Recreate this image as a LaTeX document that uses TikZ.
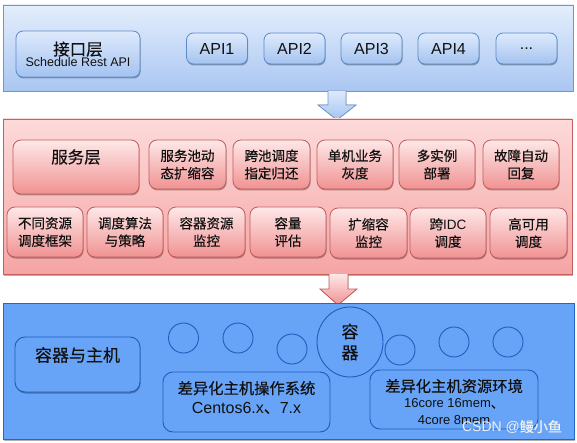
\documentclass[tikz,border=0pt]{standalone}
\usepackage{fontspec}
\setmainfont{Liberation Sans}
\newfontfamily\cjk[FakeBold=0.4]{Noto Sans CJK SC}
\usetikzlibrary{shadows,shapes.geometric}
\definecolor{tpTop}{HTML}{E4EEFC}
\definecolor{tpBot}{HTML}{A9C6F2}
\definecolor{tpBorder}{HTML}{6E97D0}
\definecolor{bbTop}{HTML}{DEEAFC}
\definecolor{bbBot}{HTML}{A4C3F0}
\definecolor{bbBorder}{HTML}{5B8AC9}
\definecolor{pkTop}{HTML}{FDDADA}
\definecolor{pkBot}{HTML}{F6A4A4}
\definecolor{pkBorder}{HTML}{C4605E}
\definecolor{pbTop}{HTML}{FEE8E8}
\definecolor{pbBot}{HTML}{F09292}
\definecolor{pbBorder}{HTML}{C25C5B}
\definecolor{dpFill}{HTML}{67A4F8}
\definecolor{dpBorder}{HTML}{2466C6}
\definecolor{dpInner}{HTML}{1D5DBD}
\definecolor{txt}{HTML}{111111}
\begin{document}
\begin{tikzpicture}[x=1pt,y=-1pt,
  shad/.style={drop shadow={shadow xshift=0.6pt,shadow yshift=-1.5pt,opacity=0.3,fill=black}},
  bluepanel/.style={rectangle,draw=tpBorder,line width=0.8pt,top color=tpTop,bottom color=tpBot,shad,inner sep=0pt},
  pinkpanel/.style={rectangle,draw=pkBorder,line width=0.8pt,top color=pkTop,bottom color=pkBot,shad,inner sep=0pt},
  deeppanel/.style={rectangle,draw=dpBorder,line width=0.8pt,fill=dpFill,shad,inner sep=0pt},
  bluebox/.style={rectangle,rounded corners=7pt,draw=bbBorder,line width=0.8pt,top color=bbTop,bottom color=bbBot,shad,inner sep=0pt,align=center,text=txt},
  apibox/.style={bluebox,minimum width=61pt,minimum height=31pt,font=\fontsize{16}{18}\selectfont},
  pinkbox/.style={rectangle,rounded corners=8pt,draw=pbBorder,line width=0.8pt,top color=pbTop,bottom color=pbBot,shad,inner sep=0pt,align=center,text=txt,font=\cjk\fontsize{13.5}{17.5}\selectfont},
  deepbox/.style={rectangle,rounded corners=10pt,draw=dpInner,line width=0.9pt,fill=dpFill,inner sep=0pt,align=center,text=txt},
  smallc/.style={circle,draw=dpInner,line width=0.9pt,fill=dpFill,minimum size=30pt,inner sep=0pt},
  lbl/.style={inner sep=0pt,text=txt,align=center},
]
\useasboundingbox (0,0) rectangle (577,443);

% ---------- top panel ----------
\node[bluepanel,minimum width=570pt,minimum height=86pt] (top) at (288,48) {};
\node[bluebox,minimum width=124pt,minimum height=46pt] (iface) at (78,54)
  {{\cjk\fontsize{16.5}{18}\selectfont 接口层}\\[-1pt]{\fontsize{12.5}{14}\selectfont Schedule Rest API}};
\node[apibox] (api1) at (217,48.5) {API1};
\node[apibox] (api2) at (294.5,48.5) {API2};
\node[apibox] (api3) at (371.5,48.5) {API3};
\node[apibox] (api4) at (448.5,48.5) {API4};
\node[apibox] (api5) at (526.5,48.5) {...};

% ---------- arrow 1 ----------
\fill[top color=bbTop,bottom color=bbBot,draw=tpBorder,line width=0.8pt]
  (328,91) -- (328,105) -- (318,105) -- (337,120) -- (356,105) -- (346,105) -- (346,91);

% ---------- middle panel ----------
\node[pinkpanel,minimum width=569pt,minimum height=155pt] (mid) at (287.5,196.5) {};
\node[pinkbox,minimum width=126pt,minimum height=54pt] (svc) at (76,167) {};
\node[lbl,font=\cjk\fontsize{16.5}{18}\selectfont] (svcT) at (76,157) {服务层};
\node[pinkbox,minimum width=77pt,minimum height=49pt] (r1a) at (187.5,164.5) {服务池动\\态扩缩容};
\node[pinkbox,minimum width=77pt,minimum height=49pt] (r1b) at (271.5,164.5) {跨池调度\\指定归还};
\node[pinkbox,minimum width=76pt,minimum height=49pt] (r1c) at (355,164.5) {单机业务\\灰度};
\node[pinkbox,minimum width=76pt,minimum height=49pt] (r1d) at (437,164.5) {多实例\\部署};
\node[pinkbox,minimum width=76pt,minimum height=49pt] (r1e) at (521,164.5) {故障自动\\回复};
\node[pinkbox,minimum width=76pt,minimum height=50pt] (r2a) at (45,232) {不同资源\\调度框架};
\node[pinkbox,minimum width=76pt,minimum height=50pt] (r2b) at (125,232) {调度算法\\与策略};
\node[pinkbox,minimum width=77pt,minimum height=50pt] (r2c) at (206.5,232) {容器资源\\监控};
\node[pinkbox,minimum width=76pt,minimum height=50pt] (r2d) at (288,232) {容量\\评估};
\node[pinkbox,minimum width=77pt,minimum height=50pt] (r2e) at (368.5,233) {扩缩容\\监控};
\node[pinkbox,minimum width=76pt,minimum height=50pt] (r2f) at (448,233) {跨{\rmfamily IDC}\\调度};
\node[pinkbox,minimum width=77pt,minimum height=50pt] (r2g) at (528.5,233) {高可用\\调度};

% ---------- arrow 2 ----------
\fill[top color=pbTop,bottom color=pbBot,draw=pbBorder,line width=0.8pt]
  (329,274) -- (329,289) -- (320,289) -- (338,305) -- (357,289) -- (348,289) -- (348,274);

% ---------- bottom panel ----------
\node[deeppanel,minimum width=571pt,minimum height=136pt] (bot) at (288.5,371) {};
\node[deepbox,minimum width=125pt,minimum height=55pt,shad] (host) at (77.5,364.5) {};
\node[lbl,font=\cjk\fontsize{17}{19}\selectfont] (hostT) at (77.5,355) {容器与主机};
\node[deepbox,minimum width=167pt,minimum height=60pt] (os) at (246.5,402) {};
\node[lbl,font=\cjk\fontsize{15.3}{19}\selectfont] (osT) at (246.5,397.5)
  {差异化主机操作系统\\{\rmfamily\fontsize{16}{19}\selectfont Centos6.x{\cjk 、}7.x}};
\node[deepbox,minimum width=168pt,minimum height=59pt] (res) at (454,399.5) {};
\node[lbl,font=\cjk\fontsize{15.3}{17}\selectfont] (resT) at (454,402)
  {差异化主机资源环境\\[-1pt]{\rmfamily\fontsize{13}{14.5}\selectfont 16core 16mem{\cjk 、}}\\{\rmfamily\fontsize{13}{14.5}\selectfont 4core 8mem}};
\node[smallc] (c1) at (183.5,338) {};
\node[smallc] (c2) at (238,338) {};
\node[smallc] (c3) at (292,349) {};
\node[smallc] (c4) at (400,350) {};
\node[smallc] (c5) at (454,342) {};
\node[smallc] (c6) at (508,342) {};
\node[ellipse,draw=dpInner,line width=0.9pt,fill=dpFill,minimum width=66pt,minimum height=70pt,inner sep=0pt,
  align=center,text=txt,font=\cjk\fontsize{17}{21}\selectfont] (ctr) at (350,342) {容\\器};

% watermark
\node[inner sep=0pt,text=white!88!gray,font=\fontsize{14}{16}\selectfont] (wm) at (512,427) {CSDN @{\cjk 鳗小鱼}};
\end{tikzpicture}
\end{document}
